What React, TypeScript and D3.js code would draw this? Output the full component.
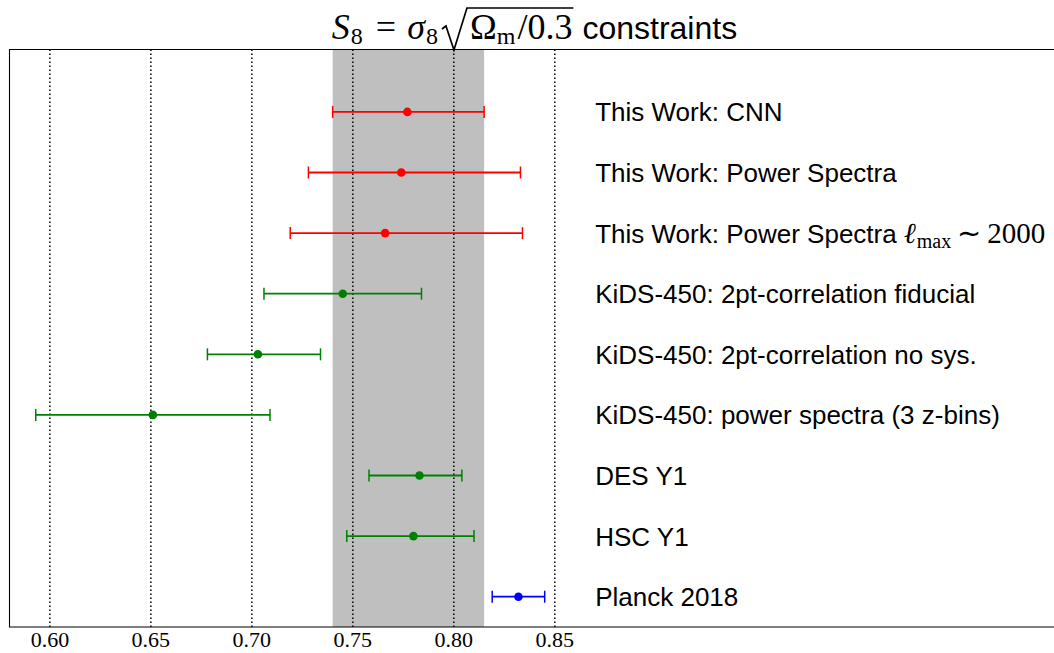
import React, { useEffect, useRef } from "react";
import * as d3 from "d3";

const labels = [
  "This Work: CNN",
  "This Work: Power Spectra",
  "This Work: Power Spectra",
  "KiDS-450: 2pt-correlation fiducial",
  "KiDS-450: 2pt-correlation no sys.",
  "KiDS-450: power spectra (3 z-bins)",
  "DES Y1",
  "HSC Y1",
  "Planck 2018",
];
const centers = [0.777, 0.774, 0.766, 0.745, 0.703, 0.651, 0.783, 0.78, 0.832];
const lowerErr = [0.037, 0.046, 0.047, 0.039, 0.025, 0.058, 0.025, 0.033, 0.013];
const upperErr = [0.038, 0.059, 0.068, 0.039, 0.031, 0.058, 0.021, 0.03, 0.013];
const colors = ["#ff0000", "#ff0000", "#ff0000", "#008000", "#008000", "#008000", "#008000", "#008000", "#0000ff"];
const band = [0.74, 0.815];
const ticks = [0.6, 0.65, 0.7, 0.75, 0.8, 0.85];
const rowValues = [9, 8, 7, 6, 5, 4, 3, 2, 1];
const labelX = 0.87;

const W = 1054;
const H = 653;
const left = 9.5;
const right = 1059.5;
const top = 49.5;
const bottom = 627;

const SANS = "'Liberation Sans', Arial, sans-serif";
const SERIF = "'Liberation Serif', 'Times New Roman', serif";

export default function App() {
  const ref = useRef<SVGSVGElement | null>(null);

  useEffect(() => {
    const svg = d3.select(ref.current);
    svg.selectAll("*").remove();

    const x = d3.scaleLinear().domain([0.58, 1.0999]).range([left, right]);
    const y = d3.scaleLinear().domain([0.5, 10.03]).range([bottom, top]);

    // band
    svg
      .append("rect")
      .attr("x", x(band[0]))
      .attr("y", top)
      .attr("width", x(band[1]) - x(band[0]))
      .attr("height", bottom - top)
      .attr("fill", "#bfbfbf");

    // grid lines
    svg
      .selectAll("line.grid")
      .data(ticks)
      .enter()
      .append("line")
      .attr("x1", (d) => x(d))
      .attr("x2", (d) => x(d))
      .attr("y1", top)
      .attr("y2", bottom)
      .attr("stroke", "#000")
      .attr("stroke-width", 1.5)
      .attr("stroke-dasharray", "1.5,2.5");

    // tick labels
    svg
      .selectAll("text.tick")
      .data(ticks)
      .enter()
      .append("text")
      .attr("x", (d) => x(d))
      .attr("y", 647)
      .attr("text-anchor", "middle")
      .attr("font-family", SERIF)
      .attr("font-size", 22)
      .attr("fill", "#000")
      .text((d) => d3.format(".2f")(d));

    // error bars
    const rows = centers.map((c, i) => ({
      c,
      lo: c - lowerErr[i],
      hi: c + upperErr[i],
      yv: rowValues[i],
      color: colors[i],
    }));
    const g = svg.append("g");
    rows.forEach((r) => {
      const yy = y(r.yv);
      g.append("line")
        .attr("x1", x(r.lo))
        .attr("x2", x(r.hi))
        .attr("y1", yy)
        .attr("y2", yy)
        .attr("stroke", r.color)
        .attr("stroke-width", 1.8);
      [r.lo, r.hi].forEach((v) => {
        g.append("line")
          .attr("x1", x(v))
          .attr("x2", x(v))
          .attr("y1", yy - 6)
          .attr("y2", yy + 6)
          .attr("stroke", r.color)
          .attr("stroke-width", 1.5);
      });
      g.append("circle").attr("cx", x(r.c)).attr("cy", yy).attr("r", 4.3).attr("fill", r.color);
    });

    // labels
    labels.forEach((lab, i) => {
      const t = svg
        .append("text")
        .attr("x", x(labelX))
        .attr("y", y(rowValues[i]) + 9.5)
        .attr("font-family", SANS)
        .attr("font-size", 26)
        .attr("fill", "#000");
      t.append("tspan").text(lab);
      if (i === 2) {
        t.append("tspan").attr("dx", 7).attr("font-family", SERIF).attr("font-style", "italic").attr("font-size", 29).text("ℓ");
        t.append("tspan").attr("dx", 1).attr("dy", 5).attr("font-family", SERIF).attr("font-size", 20).text("max");
        t.append("tspan").attr("dx", 6).attr("dy", -5).attr("font-family", SERIF).attr("font-size", 29).text("∼");
        t.append("tspan").attr("dx", 6).attr("font-family", SERIF).attr("font-size", 29).text("2000");
      }
    });

    // axes border (top, left, bottom)
    svg
      .append("path")
      .attr("d", `M${right},${top}H${left}V${bottom}H${right}`)
      .attr("fill", "none")
      .attr("stroke", "#000")
      .attr("stroke-width", 1.1);

    // title
    const baseY = 39;
    const pieces: { t: string; fam: string; size: number; italic?: boolean; dy?: number; gap: number }[] = [
      { t: "S", fam: SERIF, size: 36, italic: true, gap: 1 },
      { t: "8", fam: SERIF, size: 24, dy: 5, gap: 13 },
      { t: "=", fam: SERIF, size: 36, gap: 11 },
      { t: "σ", fam: SERIF, size: 36, italic: true, gap: 1 },
      { t: "8", fam: SERIF, size: 24, dy: 5, gap: 32 },
      { t: "Ω", fam: SERIF, size: 36, gap: 0 },
      { t: "m", fam: SERIF, size: 24, dy: 5, gap: 2 },
      { t: "/0.3", fam: SERIF, size: 36, gap: 10 },
      { t: "constraints", fam: SANS, size: 32, gap: 0 },
    ];
    const tg = svg.append("g");
    const nodes = pieces.map((p) =>
      tg
        .append("text")
        .attr("y", baseY + (p.dy || 0))
        .attr("font-family", p.fam)
        .attr("font-size", p.size)
        .attr("font-style", p.italic ? "italic" : "normal")
        .attr("fill", "#000")
        .text(p.t)
    );
    const widths = nodes.map((n) => (n.node() as SVGTextElement).getComputedTextLength());
    const total = widths.reduce((a, w, i) => a + w + (i < pieces.length - 1 ? pieces[i].gap : 0), 0);
    let cx = (left + right) / 2 - total / 2;
    const starts: number[] = [];
    nodes.forEach((n, i) => {
      starts.push(cx);
      n.attr("x", cx);
      cx += widths[i] + pieces[i].gap;
    });
    const radStart = starts[4] + widths[4] + 4;
    const radEnd = starts[7] + widths[7] + 1;
    const topY = baseY - 31;
    tg.append("path")
      .attr(
        "d",
        `M${radStart},${baseY - 10}L${radStart + 4},${baseY - 13}L${radStart + 12},${baseY + 11}L${radStart + 25},${topY}H${radEnd}`
      )
      .attr("fill", "none")
      .attr("stroke", "#000")
      .attr("stroke-width", 1.7)
      .attr("stroke-linejoin", "miter");
  }, []);

  return (
    <svg
      ref={ref}
      width={W}
      height={H}
      style={{ position: "absolute", left: 0, top: 0, background: "#fff" }}
    />
  );
}
